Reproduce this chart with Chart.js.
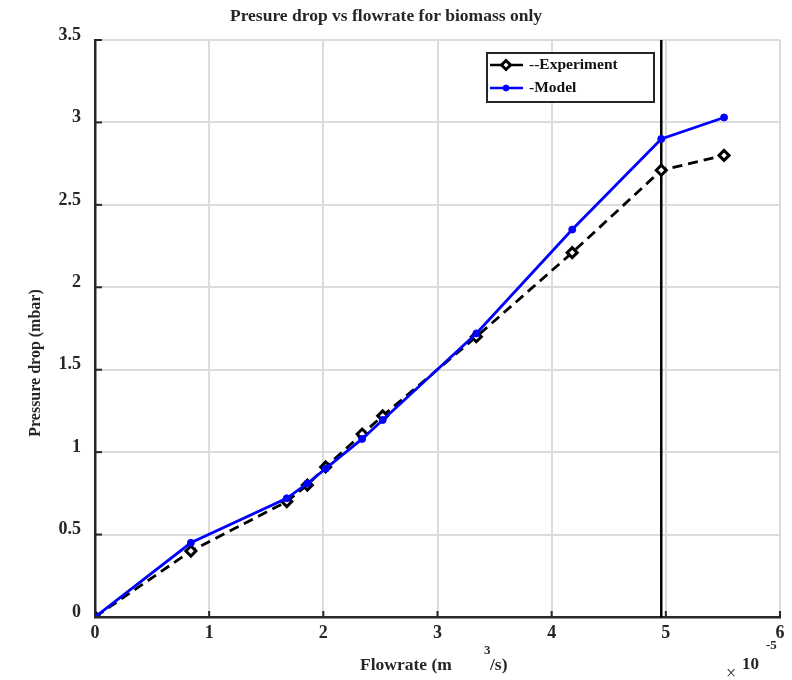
<!DOCTYPE html>
<html>
<head>
<meta charset="utf-8">
<script src="https://cdn.jsdelivr.net/npm/chart.js@4.4.0/dist/chart.umd.min.js"></script>
<style>
  html, body { margin: 0; padding: 0; background: #fff; }
  #wrap { width: 792px; height: 680px; }
</style>
</head>
<body>
<div id="wrap"><canvas id="chart" width="792" height="680"></canvas></div>
<script>
// flowrate in units of 1e-5 m^3/s, pressure drop in mbar
const flowrate = [0, 0.84, 1.68, 1.86, 2.02, 2.34, 2.52, 3.34, 4.18, 4.96, 5.51];
const experiment = [0, 0.40, 0.70, 0.80, 0.91, 1.11, 1.22, 1.70, 2.21, 2.71, 2.80];
const model = [0, 0.45, 0.72, 0.81, 0.90, 1.08, 1.195, 1.72, 2.35, 2.90, 3.03];
const markerX = 4.96;

const xTicks = [0, 1, 2, 3, 4, 5, 6];
const xTickLabels = ['0', '1', '2', '3', '4', '5', '6'];
const yTicks = [0, 0.5, 1, 1.5, 2, 2.5, 3, 3.5];
const yTickLabels = ['0', '0.5', '1', '1.5', '2', '2.5', '3', '3.5'];

const FONT = '"Liberation Serif", "Times New Roman", serif';
const AXIS = '#262626';

const toPoints = (xs, ys) => xs.map((x, i) => ({ x: x, y: ys[i] }));

// axes decorations, labels and legend drawn MATLAB-style
const matlabAxes = {
  id: 'matlabAxes',
  afterDatasetsDraw(chart) {
    const ctx = chart.ctx;
    const xs = chart.scales.x;
    const ys = chart.scales.y;
    const area = chart.chartArea;

    ctx.save();
    // inward tick marks
    ctx.strokeStyle = AXIS;
    ctx.lineWidth = 2;
    xTicks.forEach(v => {
      const px = xs.getPixelForValue(v);
      ctx.beginPath();
      ctx.moveTo(px, area.bottom);
      ctx.lineTo(px, area.bottom - 6);
      ctx.stroke();
    });
    yTicks.forEach(v => {
      const py = ys.getPixelForValue(v);
      ctx.beginPath();
      ctx.moveTo(area.left, py);
      ctx.lineTo(area.left + 7, py);
      ctx.stroke();
    });

    // tick labels
    ctx.fillStyle = '#262626';
    ctx.font = 'bold 18px ' + FONT;
    ctx.textAlign = 'center';
    ctx.textBaseline = 'middle';
    xTicks.forEach((v, i) => {
      ctx.fillText(xTickLabels[i], xs.getPixelForValue(v), area.bottom + 16);
    });
    ctx.textAlign = 'right';
    yTicks.forEach((v, i) => {
      ctx.fillText(yTickLabels[i], area.left - 14, ys.getPixelForValue(v) - 5);
    });

    // title
    ctx.textAlign = 'center';
    ctx.font = 'bold 17.5px ' + FONT;
    ctx.fillText('Presure drop vs flowrate for biomass only', 386, 16);

    // x axis label with superscript
    ctx.textAlign = 'left';
    ctx.fillText('Flowrate (m', 360, 665);
    ctx.font = 'bold 13px ' + FONT;
    ctx.fillText('3', 484, 651);
    ctx.font = 'bold 17.5px ' + FONT;
    ctx.fillText('/s)', 490, 665);

    // exponent
    ctx.font = '18px ' + FONT;
    ctx.fillText('\u00d7', 726, 674);
    ctx.font = 'bold 17px ' + FONT;
    ctx.fillText('10', 742, 665);
    ctx.font = 'bold 13px ' + FONT;
    ctx.fillText('-5', 766, 646);

    // y axis label
    ctx.save();
    ctx.translate(36, 363);
    ctx.rotate(-Math.PI / 2);
    ctx.textAlign = 'center';
    ctx.font = 'bold 16px ' + FONT;
    ctx.fillText('Pressure drop (mbar)', 0, 0);
    ctx.restore();

    // legend
    const box = { x: 487, y: 53, w: 167, h: 49 };
    ctx.fillStyle = '#fff';
    ctx.fillRect(box.x, box.y, box.w, box.h);
    ctx.strokeStyle = AXIS;
    ctx.lineWidth = 2;
    ctx.strokeRect(box.x, box.y, box.w, box.h);

    const entries = [
      { ds: chart.data.datasets[1], text: '--Experiment', y: 65 },
      { ds: chart.data.datasets[0], text: '-Model', y: 88 }
    ];
    entries.forEach(e => {
      ctx.strokeStyle = e.ds.borderColor;
      ctx.lineWidth = 2.5;
      ctx.setLineDash([]);
      ctx.beginPath();
      ctx.moveTo(490, e.y);
      ctx.lineTo(523, e.y);
      ctx.stroke();
      ctx.fillStyle = e.ds.pointBackgroundColor;
      ctx.strokeStyle = e.ds.pointBorderColor;
      ctx.beginPath();
      if (e.ds.pointStyle === 'rectRot') {
        const r = e.ds.pointRadius - 0.5;
        ctx.moveTo(506, e.y - r);
        ctx.lineTo(506 + r, e.y);
        ctx.lineTo(506, e.y + r);
        ctx.lineTo(506 - r, e.y);
        ctx.closePath();
      } else {
        ctx.arc(506, e.y, e.ds.pointRadius - 0.5, 0, Math.PI * 2);
      }
      ctx.fill();
      ctx.lineWidth = e.ds.pointBorderWidth;
      ctx.stroke();
      ctx.fillStyle = '#111';
      ctx.font = 'bold 15.5px ' + FONT;
      ctx.textAlign = 'left';
      ctx.fillText(e.text, 529, e.y);
    });
    ctx.restore();
  }
};

new Chart(document.getElementById('chart'), {
  type: 'scatter',
  data: {
    datasets: [{
      label: '-Model',
      data: toPoints(flowrate, model),
      showLine: true,
      borderColor: '#0000ff',
      borderWidth: 2.8,
      pointStyle: 'circle',
      pointRadius: 3.5,
      pointBorderWidth: 1,
      pointBackgroundColor: '#0000ff',
      pointBorderColor: '#0000ff'
    }, {
      label: '--Experiment',
      data: toPoints(flowrate, experiment),
      showLine: true,
      borderColor: '#000000',
      borderWidth: 2.8,
      borderDash: [10, 6],
      pointStyle: 'rectRot',
      pointRadius: 5,
      pointBorderWidth: 3,
      pointBackgroundColor: '#ffffff',
      pointBorderColor: '#000000'
    }, {
      label: 'marker',
      data: [{ x: markerX, y: 0 }, { x: markerX, y: 3.5 }],
      showLine: true,
      borderColor: '#000000',
      borderWidth: 2.5,
      pointRadius: 0
    }]
  },
  options: {
    responsive: false,
    animation: false,
    layout: { padding: { top: 40, right: 12, left: 0, bottom: 0 } },
    plugins: {
      legend: { display: false },
      tooltip: { enabled: false }
    },
    scales: {
      x: {
        type: 'linear',
        min: 0,
        max: 6,
        afterBuildTicks: s => { s.ticks = xTicks.map(v => ({ value: v })); },
        afterFit: s => { s.height = 63; },
        ticks: { display: false },
        grid: { color: '#dcdcdc', lineWidth: 2, drawTicks: false },
        border: { display: true, color: AXIS, width: 2.5 }
      },
      y: {
        type: 'linear',
        min: 0,
        max: 3.5,
        afterBuildTicks: s => { s.ticks = yTicks.map(v => ({ value: v })); },
        afterFit: s => { s.width = 95; },
        ticks: { display: false },
        grid: { color: '#dcdcdc', lineWidth: 2, drawTicks: false },
        border: { display: true, color: AXIS, width: 2.5 }
      }
    }
  },
  plugins: [matlabAxes]
});
</script>
</body>
</html>
